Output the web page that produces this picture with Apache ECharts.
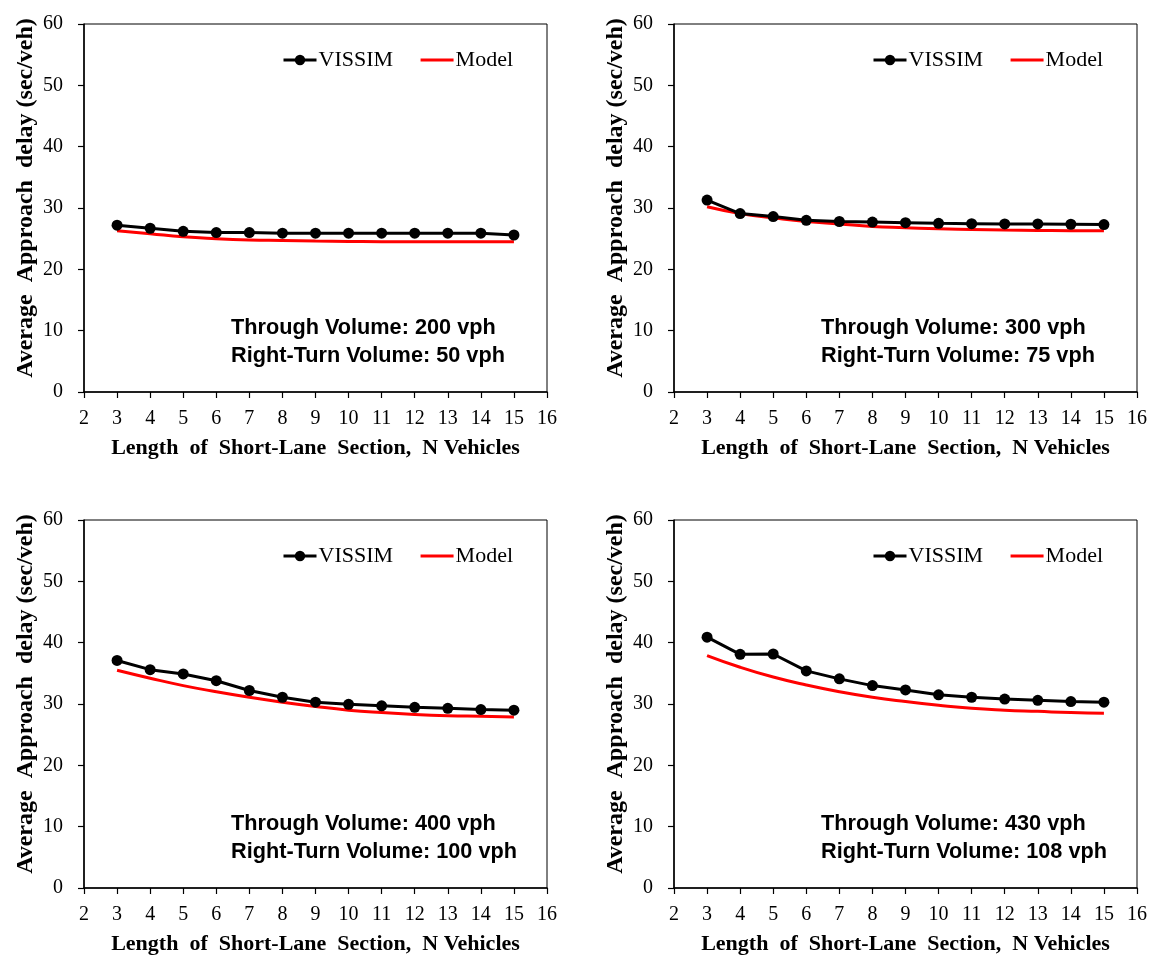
<!DOCTYPE html>
<html>
<head>
<meta charset="utf-8">
<script src="https://cdn.jsdelivr.net/npm/echarts@6/dist/echarts.min.js"></script>
<style>
  html, body { margin: 0; padding: 0; background: #fff; }
  #chart { width: 1152px; height: 957px; }
</style>
</head>
<body>
<div id="chart"></div>
<script>
// N vehicles (x values)
const nVehicles = [3, 4, 5, 6, 7, 8, 9, 10, 11, 12, 13, 14, 15]

// 200 vph / 50 vph
const vissim1 = [27.2, 26.7, 26.2, 26.0, 26.0, 25.9, 25.9, 25.9, 25.9, 25.9, 25.9, 25.9, 25.6]
const model1 = [26.3, 25.8, 25.3, 25.0, 24.8, 24.7, 24.6, 24.55, 24.5, 24.5, 24.5, 24.5, 24.5]
// 300 vph / 75 vph
const vissim2 = [31.3, 29.1, 28.6, 28.0, 27.8, 27.7, 27.6, 27.5, 27.45, 27.4, 27.4, 27.35, 27.3]
const model2 = [30.2, 29.1, 28.4, 27.8, 27.4, 27.0, 26.8, 26.6, 26.5, 26.4, 26.35, 26.3, 26.3]
// 400 vph / 100 vph
const vissim3 = [37.1, 35.6, 34.9, 33.8, 32.2, 31.1, 30.3, 29.95, 29.7, 29.45, 29.3, 29.1, 29.0]
const model3 = [35.5, 34.2, 33.0, 32.0, 31.1, 30.3, 29.6, 29.0, 28.6, 28.3, 28.1, 28.0, 27.9]
// 430 vph / 108 vph
const vissim4 = [40.9, 38.1, 38.15, 35.4, 34.1, 33.0, 32.3, 31.5, 31.1, 30.8, 30.6, 30.4, 30.3]
const model4 = [37.9, 36.0, 34.4, 33.1, 32.0, 31.1, 30.4, 29.8, 29.3, 29.0, 28.8, 28.6, 28.5]

const throughLabels = ['Through Volume: 200 vph', 'Through Volume: 300 vph', 'Through Volume: 400 vph', 'Through Volume: 430 vph']
const rightTurnLabels = ['Right-Turn Volume: 50 vph', 'Right-Turn Volume: 75 vph', 'Right-Turn Volume: 100 vph', 'Right-Turn Volume: 108 vph']

const vissimSets = [vissim1, vissim2, vissim3, vissim4]
const modelSets = [model1, model2, model3, model4]

// panel boxes: left, top (plot area)
const panels = [
  { left: 84, top: 24 },
  { left: 674, top: 24 },
  { left: 84, top: 520 },
  { left: 674, top: 520 },
]
const plotW = 463
const plotH = 368

const serif = 'Liberation Serif'

const grids = []
const xAxes = []
const yAxes = []
const series = []
const legends = []
const graphics = []

panels.forEach((p, i) => {
  grids.push({
    left: p.left,
    top: p.top,
    width: plotW,
    height: plotH,
    show: true,
    borderColor: '#000',
    borderWidth: 1,
    backgroundColor: 'transparent',
  })
  xAxes.push({
    gridIndex: i,
    type: 'value',
    min: 2,
    max: 16,
    interval: 1,
    name: 'Length  of  Short-Lane  Section,  N Vehicles',
    nameLocation: 'middle',
    nameGap: 45,
    nameTextStyle: { fontFamily: serif, fontWeight: 'bold', fontSize: 22, color: '#000' },
    axisLine: { lineStyle: { color: '#000', width: 1.5 } },
    axisTick: { inside: false, length: 6, lineStyle: { color: '#000', width: 1.2 } },
    axisLabel: { fontFamily: serif, fontSize: 20, color: '#000', margin: 17 },
    splitLine: { show: false },
  })
  yAxes.push({
    gridIndex: i,
    type: 'value',
    min: 0,
    max: 60,
    interval: 10,
    name: 'Average  Approach  delay (sec/veh)',
    nameLocation: 'middle',
    nameGap: 46,
    nameTextStyle: { fontFamily: serif, fontWeight: 'bold', fontSize: 24, color: '#000', padding: [0, 0, 0, 20] },
    axisLine: { show: true, lineStyle: { color: '#000', width: 1.5 } },
    axisTick: { show: true, length: 6, lineStyle: { color: '#000', width: 1.2 } },
    axisLabel: { fontFamily: serif, fontSize: 20, color: '#000', margin: 21 },
    splitLine: { show: false },
  })
  series.push({
    name: 'VISSIM',
    type: 'line',
    xAxisIndex: i,
    yAxisIndex: i,
    data: nVehicles.map((n, k) => [n, vissimSets[i][k]]),
    symbol: 'circle',
    symbolSize: 11,
    itemStyle: { color: '#000' },
    lineStyle: { color: '#000', width: 3 },
    z: 3,
  })
  series.push({
    name: 'Model',
    type: 'line',
    xAxisIndex: i,
    yAxisIndex: i,
    data: nVehicles.map((n, k) => [n, modelSets[i][k]]),
    smooth: true,
    showSymbol: false,
    symbol: 'none',
    itemStyle: { color: '#ff0000' },
    lineStyle: { color: '#ff0000', width: 3 },
    z: 2,
  })
  legends.push({
    left: p.left + 193,
    top: p.top + 20,
    itemWidth: 33,
    itemHeight: 13,
    itemGap: 26,
    data: [
      { name: 'VISSIM', lineStyle: { width: 3 } },
      { name: 'Model', lineStyle: { width: 3 }, itemStyle: { opacity: 0 } },
    ],
    textStyle: { fontFamily: serif, fontSize: 22, color: '#000', padding: [0, 0, 0, -3] },
    selectedMode: false,
  })
  graphics.push({
    type: 'text',
    left: p.left + 147,
    top: p.top + 290,
    style: {
      text: throughLabels[i] + '\n' + rightTurnLabels[i],
      font: 'bold 21.7px "Liberation Sans"',
      lineHeight: 28,
      fill: '#000',
    },
  })
})

const chart = echarts.init(document.getElementById('chart'))
chart.setOption({
  animation: false,
  backgroundColor: '#fff',
  grid: grids,
  xAxis: xAxes,
  yAxis: yAxes,
  series: series,
  legend: legends,
  graphic: graphics,
})
</script>
</body>
</html>
